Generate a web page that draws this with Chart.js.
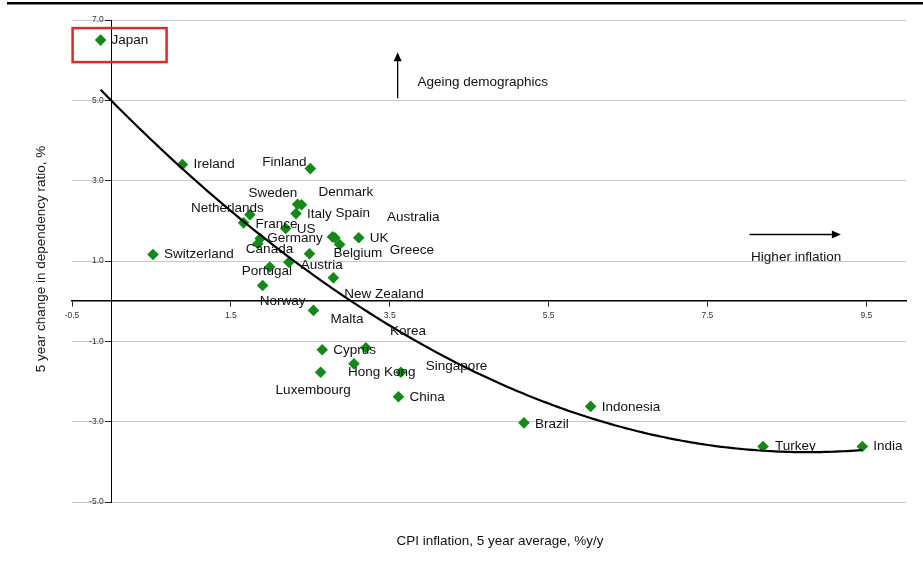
<!DOCTYPE html>
<html>
<head>
<meta charset="utf-8">
<script src="https://cdn.jsdelivr.net/npm/chart.js@4.4.1/dist/chart.umd.min.js"></script>
<style>
  body { margin: 0; background: #fff; }
  #wrap { width: 923px; height: 573px; }
</style>
</head>
<body>
<div id="wrap"><canvas id="scatterChart" width="923" height="573"></canvas></div>
<script>
// Datos
const countries = ['Japan', 'Ireland', 'Finland', 'Switzerland', 'Sweden', 'Denmark', 'Netherlands', 'Italy',
  'Spain', 'Australia', 'France', 'US', 'Germany', 'UK', 'Canada', 'Belgium', 'Greece', 'Austria',
  'Portugal', 'Norway', 'New Zealand', 'Malta', 'Korea', 'Cyprus', 'Hong Kong', 'Singapore',
  'Luxembourg', 'China', 'Brazil', 'Indonesia', 'Turkey', 'India'];

// CPI inflation, 5 year average, %y/y
const inflation = [-0.14, 0.89, 2.50, 0.52, 2.34, 2.39, 1.74, 2.32,
  2.78, 2.81, 1.66, 2.19, 1.87, 3.11, 1.84, 2.49, 2.87, 2.23,
  1.99, 1.90, 2.79, 2.54, 3.20, 2.65, 3.05, 3.64,
  2.63, 3.61, 5.19, 6.03, 8.20, 9.45];

// 5 year change in dependency ratio, %
const dependency = [6.50, 3.40, 3.30, 1.16, 2.41, 2.40, 2.15, 2.18,
  1.60, 1.58, 1.95, 1.81, 1.56, 1.58, 1.43, 1.18, 1.41, 0.97,
  0.85, 0.39, 0.58, -0.23, -1.16, -1.21, -1.56, -1.77,
  -1.77, -2.38, -3.03, -2.62, -3.62, -3.62];

const xTicks = [-0.5, 1.5, 3.5, 5.5, 7.5, 9.5];
const yTicks = [-5, -3, -1, 1, 3, 5, 7];

// Desplazamiento de cada etiqueta respecto a su punto (px)
const labelOffsets = [[11, 0], [11, 0], [-48, -6], [11, 0], [-49, -11], [17, -12], [-59, -7], [11, 1],
  [3, -24], [52, -20], [12, 1], [11, 1], [7, 0], [11, 1], [-12, 6], [24, 0], [50, 6], [12, 3],
  [-28, 4], [-3, 16], [11, 16], [17, 9], [24, -16], [11, 1], [-6, 8], [25, -6],
  [-45, 18], [11, 1], [11, 1], [11, 1], [12, 0], [11, 0]];

const FONT = '"Liberation Sans", Arial, sans-serif';

// Ajuste polinomico de orden 2 (como la linea de tendencia de Excel)
function fitQuadratic(xs, ys) {
    const s = [0, 0, 0, 0, 0];
    const t = [0, 0, 0];
    for (let i = 0; i < xs.length; i++) {
        let p = 1;
        for (let k = 0; k < 5; k++) {
            s[k] += p;
            if (k < 3) t[k] += ys[i] * p;
            p *= xs[i];
        }
    }
    const m = [[s[0], s[1], s[2], t[0]], [s[1], s[2], s[3], t[1]], [s[2], s[3], s[4], t[2]]];
    for (let c = 0; c < 3; c++) {
        for (let r = c + 1; r < 3; r++) {
            const f = m[r][c] / m[c][c];
            for (let k = c; k < 4; k++) m[r][k] -= f * m[c][k];
        }
    }
    const coef = [0, 0, 0];
    for (let r = 2; r >= 0; r--) {
        let v = m[r][3];
        for (let k = r + 1; k < 3; k++) v -= m[r][k] * coef[k];
        coef[r] = v / m[r][r];
    }
    return coef;
}

const trend = fitQuadratic(inflation, dependency);

function drawArrow(ctx, x1, y1, x2, y2) {
    const ang = Math.atan2(y2 - y1, x2 - x1);
    const head = 9;
    ctx.beginPath();
    ctx.moveTo(x1, y1);
    ctx.lineTo(x2 - Math.cos(ang) * head, y2 - Math.sin(ang) * head);
    ctx.stroke();
    ctx.beginPath();
    ctx.moveTo(x2, y2);
    ctx.lineTo(x2 - Math.cos(ang) * head - Math.sin(ang) * 4, y2 - Math.sin(ang) * head + Math.cos(ang) * 4);
    ctx.lineTo(x2 - Math.cos(ang) * head + Math.sin(ang) * 4, y2 - Math.sin(ang) * head - Math.cos(ang) * 4);
    ctx.closePath();
    ctx.fill();
}

const extras = {
    id: 'extras',
    afterDatasetsDraw(chart) {
        const ctx = chart.ctx;
        const xs = chart.scales.x;
        const ys = chart.scales.y;
        const meta = chart.getDatasetMeta(0);

        // etiquetas del eje Y (a la izquierda de las marcas)
        ctx.save();
        ctx.fillStyle = '#333';
        ctx.font = '8.5px ' + FONT;
        ctx.textAlign = 'right';
        ctx.textBaseline = 'middle';
        const axisX = xs.getPixelForValue(0);
        yTicks.forEach(v => {
            ctx.fillText(v.toFixed(1), axisX - 8, ys.getPixelForValue(v));
        });

        // linea de tendencia
        const xmin = Math.min(...inflation);
        const xmax = Math.max(...inflation);
        ctx.strokeStyle = '#000';
        ctx.lineWidth = 2.2;
        ctx.beginPath();
        for (let i = 0; i <= 200; i++) {
            const x = xmin + (xmax - xmin) * i / 200;
            const y = trend[0] + trend[1] * x + trend[2] * x * x;
            const px = xs.getPixelForValue(x);
            const py = ys.getPixelForValue(y);
            if (i === 0) ctx.moveTo(px, py); else ctx.lineTo(px, py);
        }
        ctx.stroke();

        // etiquetas de los paises
        ctx.fillStyle = '#111';
        ctx.font = '13.5px ' + FONT;
        ctx.textAlign = 'left';
        meta.data.forEach((pt, i) => {
            ctx.fillText(countries[i], pt.x + labelOffsets[i][0], pt.y + labelOffsets[i][1]);
        });

        // recuadro rojo sobre Japon
        const jp = meta.data[0];
        ctx.strokeStyle = '#e0262d';
        ctx.lineWidth = 2.5;
        ctx.strokeRect(jp.x - 28, jp.y - 12, 94, 34);

        // flechas y textos
        ctx.strokeStyle = '#000';
        ctx.fillStyle = '#000';
        ctx.lineWidth = 1.3;
        drawArrow(ctx, xs.getPixelForValue(3.6), ys.getPixelForValue(5.05),
            xs.getPixelForValue(3.6), ys.getPixelForValue(6.2));
        drawArrow(ctx, xs.getPixelForValue(8.03), ys.getPixelForValue(1.66),
            xs.getPixelForValue(9.18), ys.getPixelForValue(1.66));
        ctx.fillStyle = '#111';
        ctx.fillText('Ageing demographics', xs.getPixelForValue(3.85), ys.getPixelForValue(5.45));
        ctx.fillText('Higher inflation', xs.getPixelForValue(8.05), ys.getPixelForValue(1.09));
        ctx.restore();
    },
    afterDraw(chart) {
        const ctx = chart.ctx;
        ctx.save();
        // linea negra superior
        ctx.fillStyle = '#000';
        ctx.fillRect(7, 2, 916, 2.5);

        // titulos de los ejes
        ctx.fillStyle = '#111';
        ctx.font = '13.5px ' + FONT;
        ctx.textAlign = 'center';
        ctx.textBaseline = 'middle';
        ctx.fillText('CPI inflation, 5 year average, %y/y', 500, 541);
        ctx.translate(41, 259);
        ctx.rotate(-Math.PI / 2);
        ctx.fillText('5 year change in dependency ratio, %', 0, 0);
        ctx.restore();
    }
};

const ctx = document.getElementById('scatterChart').getContext('2d');

const scatterChart = new Chart(ctx, {
    type: 'scatter',
    data: {
        datasets: [{
            label: 'Countries',
            data: inflation.map((x, i) => ({ x: x, y: dependency[i] })),
            pointStyle: 'rectRot',
            pointRadius: 5.8,
            pointHoverRadius: 5.8,
            borderWidth: 0,
            backgroundColor: '#138a17'
        }]
    },
    options: {
        responsive: false,
        animation: false,
        events: [],
        layout: {
            padding: { left: 72, right: 17, top: 20, bottom: 71 }
        },
        plugins: {
            legend: { display: false },
            tooltip: { enabled: false }
        },
        scales: {
            x: {
                type: 'linear',
                position: { y: 0 },
                min: -0.5,
                max: 10,
                afterBuildTicks: (scale) => { scale.ticks = xTicks.map(v => ({ value: v })); },
                ticks: {
                    autoSkip: false,
                    maxRotation: 0,
                    padding: 4,
                    color: '#333',
                    font: { family: FONT, size: 8.5 },
                    callback: (v) => v.toFixed(1)
                },
                grid: {
                    drawOnChartArea: false,
                    tickLength: 5,
                    tickColor: '#222'
                },
                border: { color: '#000', width: 1.5 }
            },
            y: {
                type: 'linear',
                position: { x: 0 },
                min: -5,
                max: 7,
                afterBuildTicks: (scale) => { scale.ticks = yTicks.map(v => ({ value: v })); },
                ticks: { display: false },
                grid: {
                    color: '#c8c8c8',
                    lineWidth: 1,
                    tickLength: 6,
                    tickColor: '#222'
                },
                border: { color: '#000', width: 1 }
            }
        }
    },
    plugins: [extras]
});
</script>
</body>
</html>
